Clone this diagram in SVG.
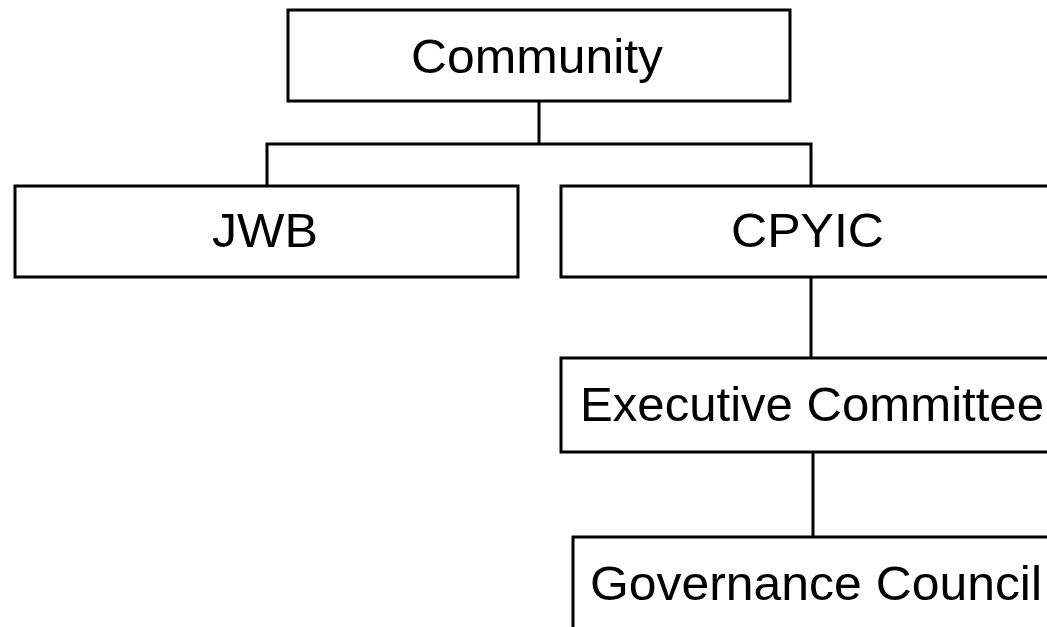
<svg xmlns="http://www.w3.org/2000/svg" width="1047" height="627" viewBox="0 0 1047 627">
<style>
.box{fill:#fff;stroke:#000;stroke-width:3}
.lbl{font-family:"Liberation Sans",Arial,sans-serif;font-size:49px;fill:#000}
.conn{fill:none;stroke:#000;stroke-width:3}
</style>
<rect width="1047" height="627" fill="#fff"/>
<g id="connectors">
<path class="conn" d="M539 101V144M267 186V144H811V186"/>
<path class="conn" d="M811 277V358"/>
<path class="conn" d="M813 452V537"/>
</g>
<g id="community">
<rect class="box" x="288" y="10" width="502" height="91"/>
<text class="lbl" x="411" y="73" textLength="252" lengthAdjust="spacingAndGlyphs">Community</text>
</g>
<g id="jwb">
<rect class="box" x="15" y="186" width="503" height="91"/>
<text class="lbl" x="212" y="247" textLength="106" lengthAdjust="spacingAndGlyphs">JWB</text>
</g>
<g id="cpyic">
<rect class="box" x="561" y="186" width="500" height="91"/>
<text class="lbl" x="731" y="247" textLength="153" lengthAdjust="spacingAndGlyphs">CPYIC</text>
</g>
<g id="executive-committee">
<rect class="box" x="561" y="358" width="500" height="94"/>
<text class="lbl" x="580" y="421" textLength="464" lengthAdjust="spacingAndGlyphs">Executive Committee</text>
</g>
<g id="governance-council">
<rect class="box" x="573" y="537" width="500" height="100"/>
<text class="lbl" x="590" y="600" textLength="452" lengthAdjust="spacingAndGlyphs">Governance Council</text>
</g>
</svg>
